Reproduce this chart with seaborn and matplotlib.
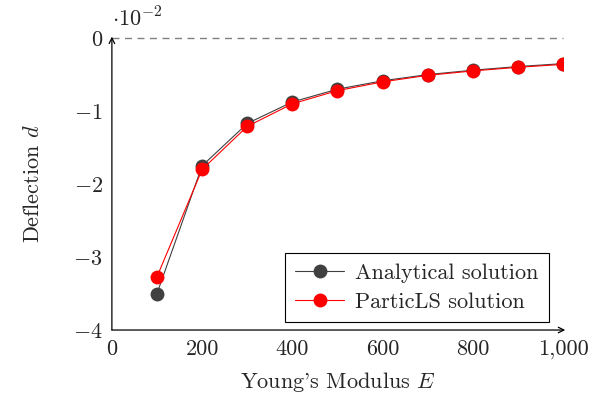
import matplotlib
matplotlib.use("Agg")
import matplotlib.pyplot as plt
import seaborn as sns
import pandas as pd

E_values = [100, 200, 300, 400, 500, 600, 700, 800, 900, 1000]
analytical = [-3.50, -1.75, -1.17, -0.875, -0.70, -0.585, -0.50, -0.44, -0.39, -0.35]
particls = [-3.27, -1.80, -1.21, -0.90, -0.72, -0.60, -0.51, -0.45, -0.40, -0.36]
series_names = ["Analytical solution", "ParticLS solution"]
x_ticks = [0, 200, 400, 600, 800, 1000]
x_tick_labels = ["0", "200", "400", "600", "800", "1,000"]
y_ticks = [-4, -3, -2, -1, 0]
y_tick_labels = [r"$-4$", r"$-3$", r"$-2$", r"$-1$", r"$0$"]

sns.set_style("white")
plt.rcParams["font.family"] = "serif"
plt.rcParams["font.serif"] = ["cmr10"]
plt.rcParams["mathtext.fontset"] = "cm"
plt.rcParams["axes.formatter.use_mathtext"] = True

FS = 16

df = pd.DataFrame({
    "E": E_values * 2,
    "d": analytical + particls,
    "series": [series_names[0]] * len(E_values) + [series_names[1]] * len(E_values),
})

fig = plt.figure(figsize=(5.92, 4.01), dpi=100)
ax = fig.add_axes([0.189, 0.177, 0.762, 0.728])

sns.lineplot(data=df, x="E", y="d", hue="series", ax=ax,
             palette={series_names[0]: "#404040", series_names[1]: "#ff0000"},
             marker="o", markersize=10, markeredgewidth=0, linewidth=0.8,
             sort=False, zorder=3)

ax.axhline(0, color="#808080", linestyle=(0, (5, 4)), linewidth=1.0, zorder=1, clip_on=False)

ax.set_xlim(0, 1000)
ax.set_ylim(-4, 0)
ax.set_xticks(x_ticks)
ax.set_xticklabels(x_tick_labels, fontsize=FS)
ax.set_yticks(y_ticks)
ax.set_yticklabels(y_tick_labels, fontsize=FS)
ax.tick_params(axis="both", direction="inout", length=7, width=0.8, color="#808080", pad=3)

for s in ["top", "right", "left", "bottom"]:
    ax.spines[s].set_visible(False)

ax.annotate("", xy=(1.005, 0), xytext=(0, 0), xycoords="axes fraction",
            arrowprops=dict(arrowstyle="->", color="black", lw=0.9, shrinkA=0, shrinkB=0))
ax.annotate("", xy=(0, 1.005), xytext=(0, 0), xycoords="axes fraction",
            arrowprops=dict(arrowstyle="->", color="black", lw=0.9, shrinkA=0, shrinkB=0))

ax.text(0.0, 1.025, r"$\cdot 10^{-2}$", transform=ax.transAxes, fontsize=FS, ha="left", va="bottom")

ax.set_xlabel("Young's Modulus $E$", fontsize=FS, labelpad=8)
ax.set_ylabel("Deflection $d$", fontsize=FS, labelpad=22)

leg = ax.legend(loc="lower right", bbox_to_anchor=(0.968, 0.027), borderaxespad=0,
                fontsize=FS, frameon=True,
                fancybox=False, edgecolor="black", framealpha=1, borderpad=0.45,
                handlelength=2.2, handletextpad=0.5, labelspacing=0.45)
leg.get_frame().set_linewidth(0.8)

fig.savefig("out.png", dpi=100)
